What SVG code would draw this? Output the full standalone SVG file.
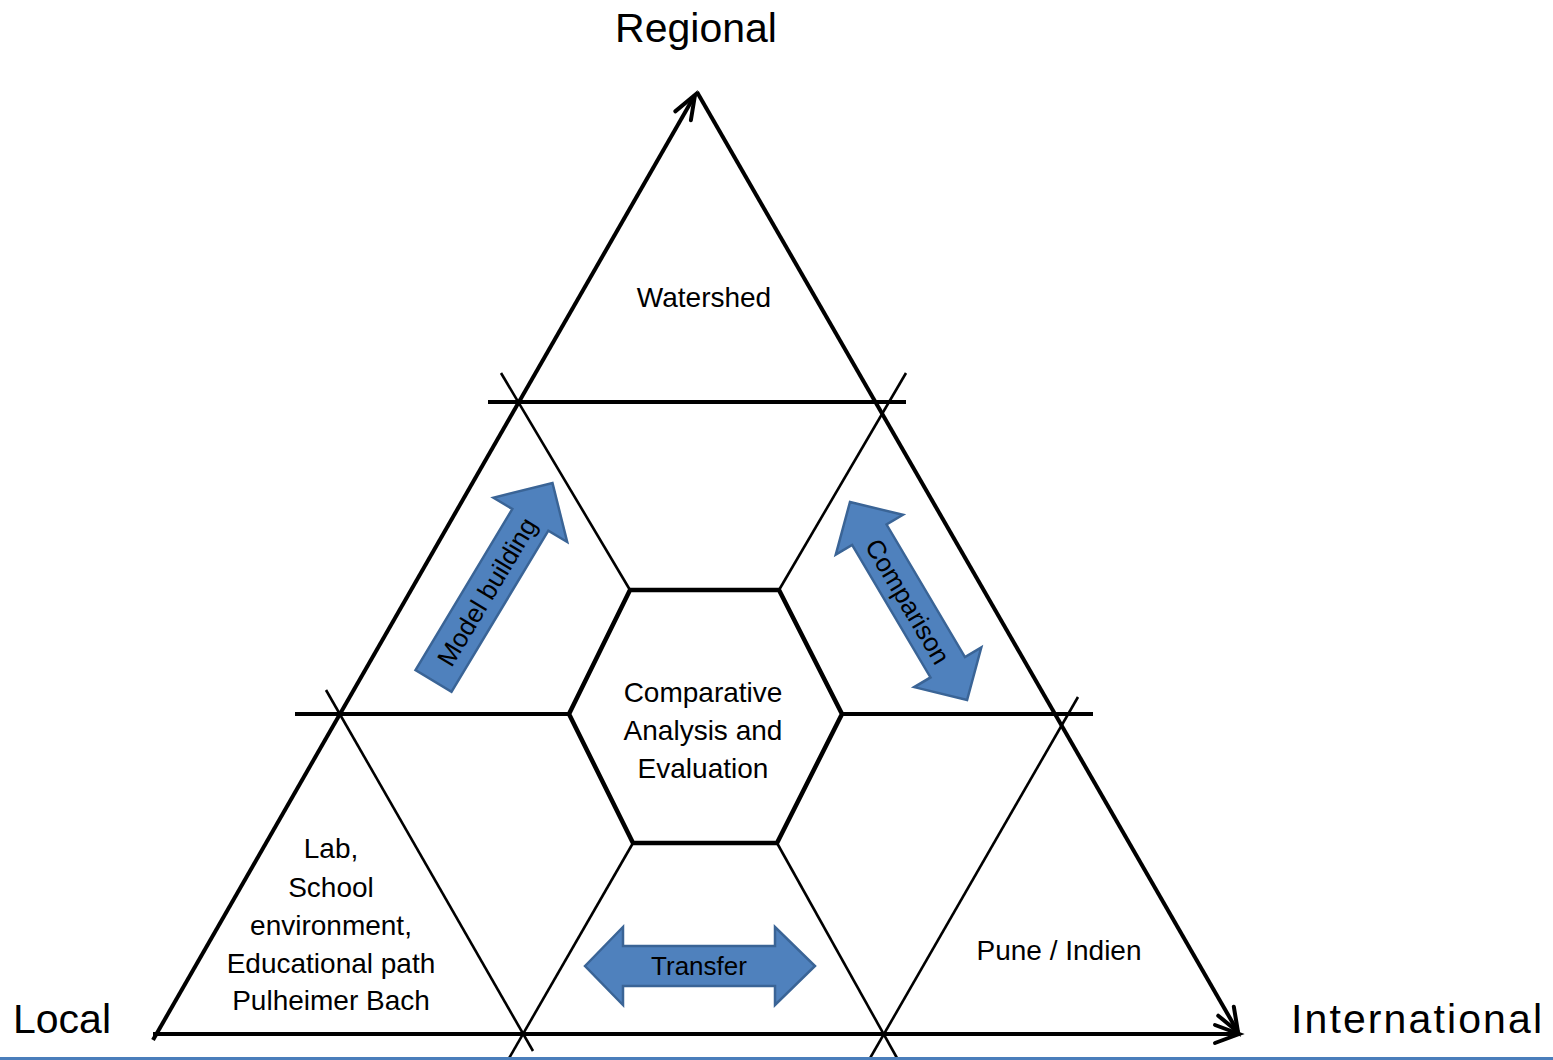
<svg xmlns="http://www.w3.org/2000/svg" width="1553" height="1060" viewBox="0 0 1553 1060">
<style>
.thick{stroke:#000;stroke-width:4;fill:none}
.thin{stroke:#000;stroke-width:2.6;fill:none}
.hex{stroke:#000;stroke-width:4.5;fill:none;stroke-linejoin:miter}
.t{font-family:"Liberation Sans",Arial,sans-serif;fill:#000;text-anchor:middle}
.title{font-size:41px}
.body{font-size:28px}
.lbl{font-size:26px}
.blue{fill:#4F81BD;stroke:#3A6496;stroke-width:2.5;stroke-linejoin:miter}
</style>
<defs>
<marker id="open" markerUnits="userSpaceOnUse" markerWidth="34" markerHeight="28" viewBox="-30 -14 34 28" refX="0" refY="0" orient="auto" overflow="visible">
<path d="M-24,-9 L0,0 L-24,9" fill="none" stroke="#000" stroke-width="4" stroke-linecap="round"/>
</marker>
</defs>
<rect width="1553" height="1060" fill="#fff"/>
<g id="connectors">
<line class="thick" x1="153" y1="1040" x2="695" y2="95" marker-end="url(#open)"/>
<line class="thick" x1="697" y1="92" x2="1238" y2="1032" marker-end="url(#open)"/>
<line class="thick" x1="153" y1="1034" x2="1239" y2="1034" marker-end="url(#open)"/>
</g>
<g id="grid">
<line class="thick" x1="488" y1="402" x2="906" y2="402"/>
<line class="thick" x1="295" y1="714" x2="569" y2="714"/>
<line class="thick" x1="842" y1="714" x2="1093" y2="714"/>
<line class="thin" x1="501" y1="373" x2="630" y2="590"/>
<line class="thin" x1="906" y1="373" x2="779" y2="590"/>
<line class="thin" x1="326" y1="690" x2="533" y2="1051"/>
<line class="thin" x1="633" y1="843" x2="508" y2="1060"/>
<line class="thin" x1="1078" y1="697" x2="869" y2="1060"/>
<line class="thin" x1="777" y1="843" x2="897" y2="1058"/>
</g>
<g id="hexagon">
<polygon class="hex" points="630,590 779,590 842,714 777,843 633,843 569,714"/>
<text class="t body" x="703" y="702">Comparative</text>
<text class="t body" x="703" y="740">Analysis and</text>
<text class="t body" x="703" y="778">Evaluation</text>
</g>
<g id="regional"><text class="t title" x="696" y="42">Regional</text></g>
<g id="local"><text class="t title" x="13" y="1033" style="text-anchor:start">Local</text></g>
<g id="international"><text class="t title" x="1291" y="1033" style="text-anchor:start" textLength="251" lengthAdjust="spacing">International</text></g>
<g id="watershed"><text class="t body" x="704" y="307">Watershed</text></g>
<g id="lab">
<text class="t body" x="331" y="858">Lab,</text>
<text class="t body" x="331" y="897">School</text>
<text class="t body" x="331" y="935">environment,</text>
<text class="t body" x="331" y="973">Educational path</text>
<text class="t body" x="331" y="1010">Pulheimer Bach</text>
</g>
<g id="pune"><text class="t body" x="1059" y="960">Pune / Indien</text></g>
<g id="model-building" transform="translate(433.5,681) rotate(-59)">
<path class="blue" d="M0,-21 L188,-21 L188,-43 L231,0 L188,43 L188,21 L0,21 Z"/>
<text class="t lbl" x="104" y="9">Model building</text>
</g>
<g id="comparison" transform="translate(850,502) rotate(59.4)">
<path class="blue" d="M0,0 L38,-39 L38,-20 L192,-20 L192,-39 L230,0 L192,39 L192,20 L38,20 L38,39 Z"/>
<text class="t lbl" x="115" y="10">Comparison</text>
</g>
<g id="transfer">
<path class="blue" d="M585,966 L623,927 L623,946 L775,946 L775,927 L815,966 L775,1005 L775,986 L623,986 L623,1005 Z"/>
<text class="t lbl" x="699" y="975">Transfer</text>
</g>
<rect x="0" y="1057" width="1553" height="3" fill="#4A7EBB"/>
</svg>
